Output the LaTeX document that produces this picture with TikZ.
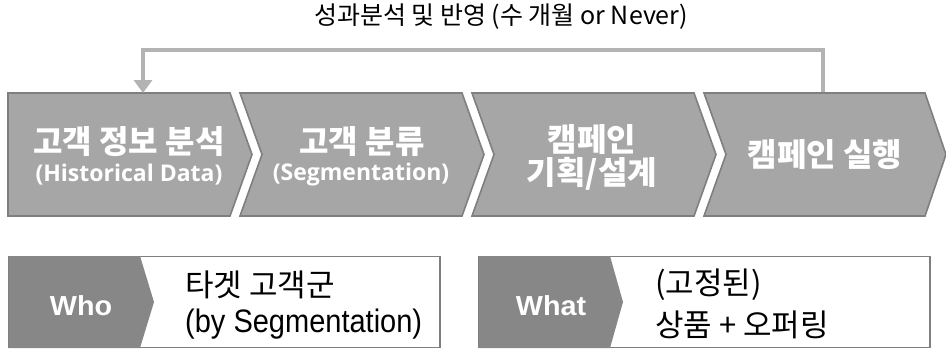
\documentclass[tikz,border=0pt]{standalone}
\usepackage{fontspec}
\usepackage{graphicx}
\usetikzlibrary{arrows.meta}
\newfontfamily\kr{Noto Sans CJK KR}
\newfontfamily\osans{Open Sans}
\newfontfamily\arialf{Liberation Sans}
\definecolor{chevfill}{HTML}{A6A6A6}
\definecolor{chevline}{HTML}{7F7F7F}
\definecolor{fbline}{HTML}{B3B3B3}
\definecolor{darkpart}{HTML}{878787}
\begin{document}
\begin{tikzpicture}[x=1pt,y=-1pt,
  chev/.style={fill=chevfill,draw=chevline,line width=1.6pt,line join=miter},
  chevtxt/.style={text=white,inner sep=0pt,font=\kr\bfseries\fontsize{32}{34}\selectfont},
  chevsub/.style={text=white,inner sep=0pt,font=\osans\bfseries\fontsize{23}{25}\selectfont},
  fb/.style={draw=fbline,line width=4.5pt,-{Triangle[width=18pt,length=13pt]}},
  wbox/.style={fill=white,draw=chevline,line width=1.4pt},
  dpart/.style={fill=darkpart},
  keytxt/.style={text=white,inner sep=0pt,font=\arialf\bfseries\fontsize{25}{26}\selectfont},
  bodytxt/.style={text=black,inner sep=0pt,anchor=west,font=\kr\fontsize{31}{33}\selectfont},
  bodylat/.style={text=black,inner sep=0pt,anchor=west,font=\arialf\fontsize{29}{30}\selectfont}]
\useasboundingbox (0,0) rectangle (946,349);
\fill[white] (0,0) rectangle (946,349);
% chevrons
\draw[chev] (8,93) -- (230,93) -- (252,154.5) -- (230,216) -- (8,216) -- cycle;
\draw[chev] (240,93) -- (462,93) -- (484,154.5) -- (462,216) -- (240,216) -- (262,154.5) -- cycle;
\draw[chev] (472,93) -- (694,93) -- (716,154.5) -- (694,216) -- (472,216) -- (494,154.5) -- cycle;
\draw[chev] (704,93) -- (925,93) -- (946,154.5) -- (925,216) -- (704,216) -- (726,154.5) -- cycle;
\coordinate (fbR) at (823,92);
\coordinate (fbL) at (143,93);
% chevron texts
\node[chevtxt] (t1a) at (129,142) {고객 정보 분석};
\node[chevsub] (t1b) at (129,175) {(Historical Data)};
\node[chevtxt] (t2a) at (362,142) {고객 분류};
\node[chevsub] (t2b) at (361,175) {(Segmentation)};
\node[chevtxt] (t3a) at (592,140) {캠페인};
\node[chevtxt] (t3b) at (592,174) {기획/설계};
\node[chevtxt] (t4) at (825,155) {캠페인 실행};
% feedback
\draw[fb] (fbR) -- (823,50) -| (fbL);
\node[inner sep=0pt,font=\kr\fontsize{25}{27}\selectfont] (title) at (501,17) {성과분석 및 반영 (수 개월 or Never)};
% bottom boxes
\draw[wbox] (9,256.5) rectangle (440,347.5);
\fill[dpart] (9,256) -- (140,256) -- (154,302) -- (140,348) -- (9,348) -- cycle;
\draw[wbox] (479,256.5) rectangle (930,347.5);
\fill[dpart] (479,256) -- (610,256) -- (623,302) -- (610,348) -- (479,348) -- cycle;
\node[keytxt] (who) at (81,306) {\scalebox{1.15}[1.1]{Who}};
\node[keytxt] (what) at (551,306) {\scalebox{1.15}[1.1]{What}};
\node[bodytxt] (w1) at (185,285) {타겟 고객군};
\node[bodylat] (w2) at (185,324) {\scalebox{1}[1.12]{(by Segmentation)}};
\node[bodytxt] (h1) at (655,285) {(고정된)};
\node[bodytxt] (h2) at (655,325) {상품 + 오퍼링};
\end{tikzpicture}
\end{document}
